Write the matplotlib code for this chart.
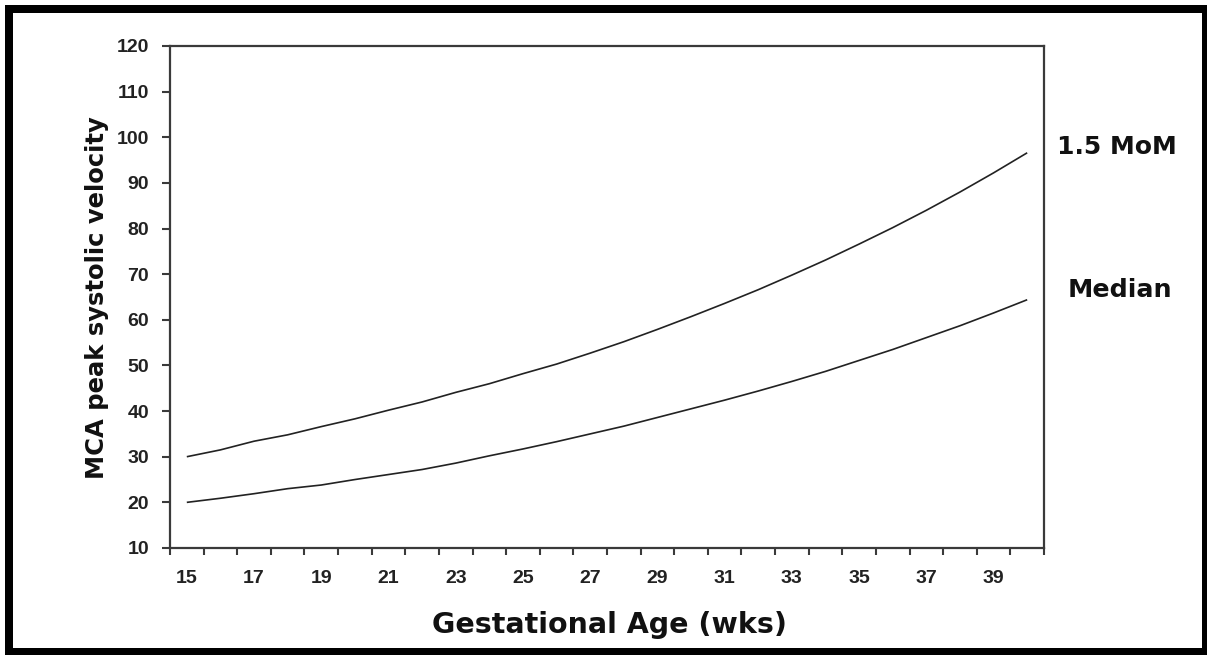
import matplotlib
matplotlib.use("Agg")
import matplotlib.pyplot as plt
from matplotlib.patches import Rectangle

weeks = list(range(15, 41))
mom_15 = [30.0, 31.5, 33.4, 34.8, 36.6, 38.3, 40.2, 42.0, 44.1, 46.0, 48.2, 50.3, 52.7,
          55.2, 57.9, 60.7, 63.6, 66.6, 69.8, 73.1, 76.6, 80.2, 84.0, 88.0, 92.2, 96.6]
median = [20.0, 20.9, 21.9, 23.0, 23.8, 25.0, 26.1, 27.2, 28.6, 30.2, 31.7, 33.3, 35.0,
          36.7, 38.6, 40.5, 42.4, 44.4, 46.5, 48.7, 51.1, 53.5, 56.1, 58.7, 61.5, 64.4]
x_tick_labels = [str(w) for w in range(15, 40, 2)]
y_ticks = list(range(10, 121, 10))
series_labels = ["1.5 MoM", "Median"]

plt.rcParams['font.family'] = ['Liberation Sans', 'DejaVu Sans']
big_font = ['DejaVu Sans']

W, H = 1207, 655
fig = plt.figure(figsize=(W / 100, H / 100), dpi=100)
fig.patch.set_facecolor('white')

ax = fig.add_axes([170 / W, 1 - 548 / H, (1044 - 170) / W, (548 - 46) / H])

line_col = '#222222'
ax.plot(weeks, mom_15, color=line_col, lw=1.2, solid_capstyle='butt')
ax.plot(weeks, median, color=line_col, lw=1.2, solid_capstyle='butt')

ax.set_xlim(weeks[0] - 0.5, weeks[-1] + 0.5)
ax.set_ylim(10, 120)

spine_col = '#3a3a3a'
for s in ax.spines.values():
    s.set_color(spine_col)
    s.set_linewidth(1.6)

# category-style x axis: ticks on boundaries, labels centred in categories
ax.set_xticks([w - 0.5 for w in weeks] + [weeks[-1] + 0.5])
ax.set_xticklabels([])
ax.set_xticks([int(t) for t in x_tick_labels], minor=True)
ax.set_xticklabels(x_tick_labels, minor=True)
ax.tick_params(axis='x', which='major', direction='out', length=5, width=1.5, color=spine_col)
ax.tick_params(axis='x', which='minor', length=0, pad=16, labelsize=14, labelcolor='#222222')

ax.set_yticks(y_ticks)
ax.set_yticklabels([str(v) for v in y_ticks])
ax.tick_params(axis='y', direction='out', length=6, width=1.5, color=spine_col, pad=9,
               labelsize=14, labelcolor='#222222')
for lab in ax.get_xticklabels(minor=True) + ax.get_yticklabels():
    lab.set_fontweight('bold')

ax.set_xlabel("Gestational Age (wks)", fontsize=20.5, fontweight='bold', color='#111111',
              family=big_font)
ax.xaxis.set_label_coords((610 - 170) / 874, (548 - 625) / 502)
ax.xaxis.label.set_va('center')

ax.set_ylabel("MCA peak systolic velocity", fontsize=17.5, fontweight='bold', color='#111111',
              family=big_font)
ax.yaxis.set_label_coords((97 - 170) / 874, (548 - 298) / 502)
ax.yaxis.label.set_va('center')

ax.text(42.68, 97.9, series_labels[0], ha='center', va='center', fontsize=18,
        fontweight='bold', color='#111111', clip_on=False, family=big_font)
ax.text(42.75, 66.5, series_labels[1], ha='center', va='center', fontsize=18.3,
        fontweight='bold', color='#111111', clip_on=False, family=big_font)

# outer black frame
def band(x0, y0, x1, y1):
    fig.add_artist(Rectangle((x0 / W, 1 - y1 / H), (x1 - x0) / W, (y1 - y0) / H,
                             transform=fig.transFigure, facecolor='black',
                             edgecolor='none', zorder=10))

band(5, 5, 1207, 13)      # top
band(5, 5, 13, 655)       # left
band(1202, 5, 1207, 655)  # right
band(5, 648, 1207, 655)   # bottom

fig.savefig("out.png", dpi=100, facecolor='white')
